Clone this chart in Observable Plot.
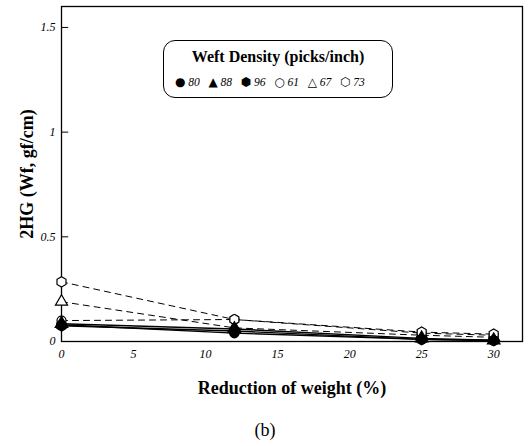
<!DOCTYPE html>
<html><head><meta charset="utf-8">
<script src="https://cdn.jsdelivr.net/npm/d3@7"></script>
<script src="https://cdn.jsdelivr.net/npm/@observablehq/plot@0.6"></script>
<style>
body{margin:0;background:#fff;}
#wrap{position:relative;width:530px;height:446px;font-family:"Liberation Serif","DejaVu Serif",serif;}
#legend{position:absolute;left:163px;top:40px;width:230px;height:58px;border:1.5px solid #000;border-radius:12px;box-sizing:border-box;}
#legend .t{position:absolute;left:0;right:0;top:7px;text-align:center;font-weight:bold;font-size:16px;}
#legend .e{position:absolute;left:11px;top:34px;font-size:11.5px;font-style:italic;white-space:nowrap;}
#legend .e span.s{font-style:normal;font-size:12px;font-family:"DejaVu Sans",sans-serif;}
#cap{position:absolute;left:0;width:530px;top:420px;text-align:center;font-size:18px;}
</style></head>
<body><div id="wrap"><div id="chart"></div>
<div id="legend"><div class="t">Weft Density (picks/inch)</div><div class="e" id="lent"></div></div>
<div id="cap">(b)</div></div>
<script>
const reduction = [0, 12, 25, 30];
const seriesNames = ["80", "88", "96", "61", "67", "73"];
const filledSeries = ["80", "88", "96"];
const openSeries = ["61", "67", "73"];
const v80 = [0.080, 0.040, 0.010, 0.005];
const v88 = [0.085, 0.060, 0.015, 0.006];
const v96 = [0.075, 0.050, 0.010, 0.005];
const v61 = [0.100, 0.105, 0.040, 0.030];
const v67 = [0.190, 0.065, 0.030, 0.020];
const v73 = [0.285, 0.105, 0.045, 0.035];
const xTicks = [0, 5, 10, 15, 20, 25, 30];
const yTicks = [0, 0.5, 1, 1.5];
const symbols = ["circle", "triangle", "hexagon", "circle", "triangle", "hexagon"];
const legendGlyphs = ["●", "▲", "⬢", "○", "△", "⬡"];

const valuesBy = {"80": v80, "88": v88, "96": v96, "61": v61, "67": v67, "73": v73};
const rows = seriesNames.flatMap(s => reduction.map((r, i) => ({series: s, x: r, y: valuesBy[s][i]})));
const filledRows = rows.filter(d => filledSeries.includes(d.series));
const openRows = rows.filter(d => openSeries.includes(d.series));

const serif = "Liberation Serif, DejaVu Serif, serif";
const chart = Plot.plot({
  width: 530, height: 410,
  marginLeft: 61, marginRight: 8, marginTop: 6, marginBottom: 69,
  x: {domain: [0, 32]},
  y: {domain: [0, 1.6]},
  symbol: {domain: seriesNames, range: symbols},
  style: {fontFamily: serif, fontSize: "12px", color: "#000", background: "transparent"},
  marks: [
    Plot.frame({stroke: "#000", strokeWidth: 1.3}),
    Plot.ruleY(yTicks.filter(t => t > 0), {x1: 0, x2: 0.5, stroke: "#000"}),
    Plot.axisX({ticks: xTicks, tickSize: 0, tickPadding: 8, label: null, fontFamily: serif, fontStyle: "italic", fontSize: 12}),
    Plot.axisY({ticks: yTicks, tickSize: 0, tickPadding: 6, label: null, fontFamily: serif, fontStyle: "italic", fontSize: 12, tickFormat: d => String(d)}),
    Plot.axisX({ticks: [], label: "Reduction of weight (%)", labelAnchor: "center", labelArrow: "none", labelOffset: 52, fontFamily: serif, fontWeight: "bold", fontSize: 18}),
    Plot.axisY({ticks: [], label: "2HG (Wf, gf/cm)", labelAnchor: "center", labelArrow: "none", labelOffset: 41, fontFamily: serif, fontWeight: "bold", fontSize: 18}),
    Plot.line(openRows, {x: "x", y: "y", z: "series", stroke: "#000", strokeWidth: 1, strokeDasharray: "6,5"}),
    Plot.line(filledRows, {x: "x", y: "y", z: "series", stroke: "#000", strokeWidth: 1.4}),
    Plot.dot(openRows, {x: "x", y: "y", symbol: "series", r: 4.5, fill: "#fff", stroke: "#000", strokeWidth: 1.2}),
    Plot.dot(filledRows, {x: "x", y: "y", symbol: "series", r: 4.5, fill: "#000", stroke: "#000"})
  ]
});
document.getElementById("chart").append(chart);
document.getElementById("lent").innerHTML = seriesNames.map((s, i) => `<span class="s">${legendGlyphs[i]}</span> ${s}`).join("&nbsp;&nbsp; ");
</script></body></html>
